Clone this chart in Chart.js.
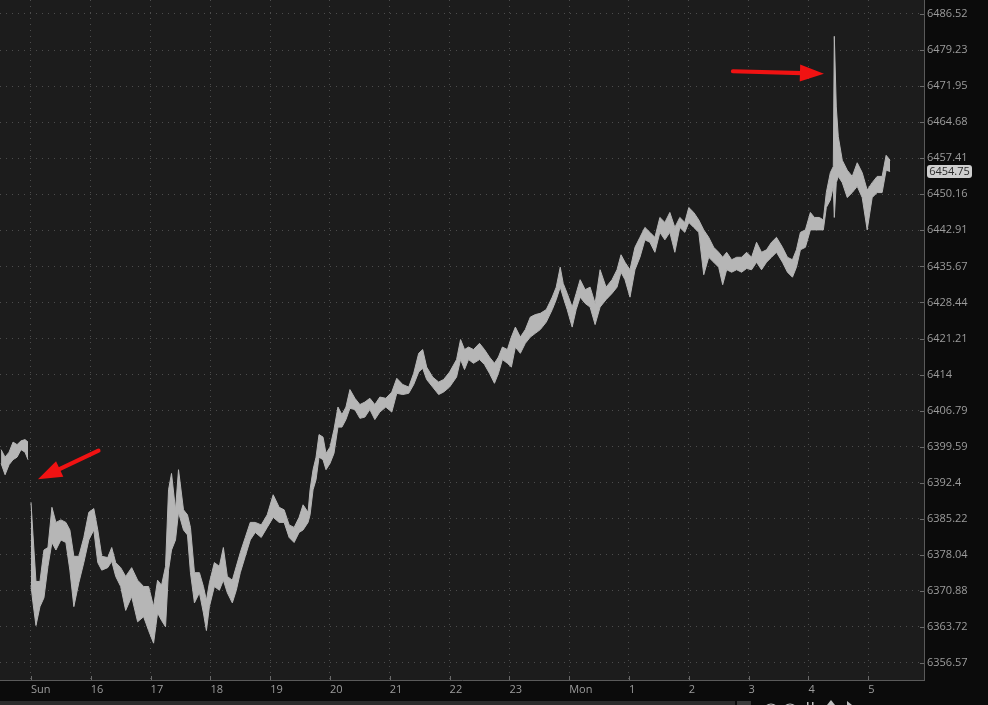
<!DOCTYPE html>
<html><head><meta charset="utf-8">
<script src="https://cdn.jsdelivr.net/npm/chart.js@4.4.1/dist/chart.umd.min.js"></script>
<style>
html,body{margin:0;padding:0;background:#0b0b0b;overflow:hidden}
#wrap{position:relative;width:988px;height:705px}
canvas{display:block}
</style></head><body>
<div id="wrap"><canvas id="c" width="988" height="705"></canvas></div>
<script>
// ---- data: minutes relative to Sunday session open ("Sun" tick), 1-min bar highs/lows ----
const friMinute = [-30,-26,-22,-18,-14,-10,-6,-3];
const friHigh   = [6399.0,6397.5,6398.5,6400.5,6400.0,6400.75,6401.0,6400.5];
const friLow    = [6396.25,6394.0,6396.0,6397.0,6397.5,6399.0,6398.5,6397.0];

const sunMinute = [0,2,5,9,13,17,21,25,30,35,39,43,48,53,58,63,67,71,77,81,85,90,95,101,107,113,118,123,127,131,135,138,141,145,148,153,157,160,164,169,173,176,179,184,189,193,197,202,206,210,215,220,225,231,237,243,249,254,259,264,269,273,278,280,283,286,289,293,296,300,304,308,312,316,320,325,330,335,340,345,350,356,362,367,373,379,384,389,393,397,403,409,414,420,427,431,435,439,444,450,455,460,465,469,473,478,482,486,491,496,501,506,511,517,523,527,531,534,538,543,547,551,556,561,566,571,577,583,588,592,596,601,606,611,616,621,626,631,636,641,646,651,656,660,665,670,675,680,685,690,694,698,703,708,713,718,723,728,733,738,743,748,754,759,764,768,772,777,782,786,791,795,798,802,805,806,808,810,814,819,824,829,834,839,844,849,854,858,862];
const sunHigh = [6388.5,6382.0,6372.75,6372.75,6379.0,6379.5,6387.5,6384.5,6385.0,6384.5,6383.0,6377.75,6377.75,6381.5,6386.5,6387.25,6383.0,6377.75,6377.5,6379.5,6376.5,6375.5,6373.75,6375.5,6373.0,6371.75,6371.75,6367.75,6373.0,6372.0,6375.75,6391.0,6394.25,6387.0,6395.0,6387.0,6386.0,6383.5,6374.5,6374.5,6371.75,6369.0,6372.5,6376.5,6375.75,6379.5,6373.75,6373.0,6375.75,6378.5,6381.5,6384.5,6384.5,6384.0,6386.0,6390.0,6387.5,6387.0,6384.0,6383.5,6385.5,6388.0,6386.5,6391.0,6395.0,6397.5,6402.0,6401.5,6398.25,6399.5,6403.0,6407.5,6406.0,6407.5,6411.0,6409.25,6408.0,6408.5,6409.25,6408.0,6409.5,6409.25,6410.5,6413.25,6412.0,6411.5,6414.25,6418.25,6419.0,6415.5,6413.5,6412.5,6413.0,6414.5,6417.0,6421.0,6419.0,6419.5,6419.0,6420.25,6419.0,6417.5,6416.25,6417.5,6419.5,6419.0,6421.5,6423.5,6421.5,6423.0,6425.5,6426.0,6426.25,6427.0,6429.5,6431.5,6435.5,6432.25,6430.25,6427.5,6430.25,6433.0,6431.0,6431.5,6428.25,6435.0,6431.5,6433.0,6435.0,6438.0,6436.5,6435.0,6439.5,6441.5,6443.5,6442.5,6441.5,6445.5,6444.5,6446.5,6443.5,6445.5,6444.5,6447.5,6446.5,6445.0,6443.0,6441.5,6439.5,6438.5,6437.5,6438.5,6437.0,6437.5,6437.5,6438.5,6437.5,6440.5,6438.5,6439.0,6440.5,6441.5,6439.5,6437.5,6437.0,6439.0,6442.5,6443.0,6446.5,6445.5,6445.5,6445.0,6450.5,6454.5,6455.75,6482.0,6467.75,6461.75,6457.0,6455.0,6453.75,6456.5,6454.5,6451.0,6452.5,6453.75,6453.75,6458.0,6457.0];
const sunLow = [6372.0,6368.5,6364.0,6367.75,6369.5,6375.75,6380.5,6379.0,6381.0,6380.5,6375.0,6367.75,6372.5,6376.5,6381.0,6383.0,6376.5,6375.0,6375.5,6376.75,6373.75,6371.75,6367.0,6369.75,6364.75,6365.75,6363.0,6360.5,6366.5,6365.0,6363.75,6375.0,6379.0,6381.0,6386.5,6383.0,6382.0,6374.5,6368.5,6370.5,6366.5,6363.0,6367.75,6371.75,6371.0,6373.0,6370.5,6368.5,6371.0,6374.5,6377.75,6381.0,6382.5,6381.5,6383.5,6385.5,6384.5,6384.5,6381.5,6380.5,6382.5,6383.0,6384.5,6386.0,6391.0,6393.0,6397.5,6397.0,6395.0,6396.25,6398.25,6403.5,6403.5,6405.0,6407.25,6407.0,6405.25,6405.5,6407.0,6405.0,6406.5,6407.5,6406.5,6410.25,6410.0,6410.25,6412.0,6414.5,6415.25,6413.0,6411.5,6410.0,6410.5,6411.5,6413.5,6417.0,6415.0,6417.0,6416.25,6417.0,6416.0,6414.25,6412.25,6414.25,6417.0,6416.25,6415.5,6419.5,6418.25,6420.25,6421.5,6422.25,6423.0,6424.5,6427.0,6429.0,6431.5,6429.5,6427.0,6423.5,6427.0,6429.5,6428.25,6427.5,6424.0,6427.5,6429.0,6430.25,6431.5,6434.5,6433.0,6429.5,6435.0,6437.5,6441.0,6440.5,6438.5,6442.5,6441.0,6442.5,6438.5,6443.5,6442.5,6444.5,6443.5,6442.5,6434.0,6437.5,6436.5,6435.5,6432.0,6435.0,6434.5,6435.0,6434.5,6435.25,6435.0,6436.5,6435.0,6436.5,6437.5,6438.5,6436.5,6434.5,6433.5,6435.5,6439.0,6439.5,6443.0,6443.0,6443.0,6443.0,6447.5,6449.0,6451.75,6445.5,6452.5,6453.75,6452.5,6449.5,6450.5,6451.75,6449.5,6443.0,6449.5,6450.5,6450.5,6455.0,6454.75];

const xTickMinutes = [0,60,120,180,240,300,360,420,480,540,600,660,720,780,840];
const xTickLabels  = ['Sun','16','17','18','19','20','21','22','23','Mon','1','2','3','4','5'];
const yTickValues  = [6486.52,6479.23,6471.95,6464.68,6457.41,6450.16,6442.91,6435.67,6428.44,6421.21,6414,6406.79,6399.59,6392.4,6385.22,6378.04,6370.88,6363.72,6356.57];
const yTickLabels  = ['6486.52','6479.23','6471.95','6464.68','6457.41','6450.16','6442.91','6435.67','6428.44','6421.21','6414','6406.79','6399.59','6392.4','6385.22','6378.04','6370.88','6363.72','6356.57'];
const lastPrice = 6454.75;
const lastPriceLabel = '6454.75';
// red annotation arrows: [minute, price]
const arrowTail1 = [67.7, 6398.8], arrowTip1 = [7.0, 6393.1];
const arrowTail2 = [704.3, 6474.95], arrowTip2 = [795.6, 6474.45];

function pts(m, v){ return m.map((t, i) => ({x: t, y: v[i]})); }
const highSeries = [...pts(friMinute, friHigh), {x: -1.5, y: null}, ...pts(sunMinute, sunHigh)];
const lowSeries  = [...pts(friMinute, friLow),  {x: -1.5, y: null}, ...pts(sunMinute, sunLow)];

const FONT = "'Open Sans', 'Noto Sans', sans-serif";
const BAR = '#b6b6b6';

function drawArrow(ctx, x1, y1, x2, y2){
  const ang = Math.atan2(y2 - y1, x2 - x1);
  const hl = 24, hw = 8.5;
  const c = Math.cos(ang), s = Math.sin(ang);
  const bx = x2 - hl * c, by = y2 - hl * s;
  ctx.strokeStyle = '#f01212'; ctx.fillStyle = '#f01212';
  ctx.lineWidth = 4.2; ctx.lineCap = 'round';
  ctx.beginPath(); ctx.moveTo(x1, y1); ctx.lineTo(bx + 2 * c, by + 2 * s); ctx.stroke();
  ctx.beginPath();
  ctx.moveTo(x2, y2);
  ctx.lineTo(bx - hw * s, by + hw * c);
  ctx.lineTo(bx + hw * s, by - hw * c);
  ctx.closePath(); ctx.fill();
}

const decor = {
  id: 'decor',
  beforeDraw(chart){
    const {ctx, chartArea: a, width, height} = chart;
    ctx.save();
    ctx.fillStyle = '#0b0b0b'; ctx.fillRect(0, 0, width, height);
    ctx.fillStyle = '#1c1c1c'; ctx.fillRect(a.left, a.top, a.right - a.left, a.bottom - a.top);
    // bottom toolbar strip (cut off by the window edge)
    ctx.fillStyle = '#2c2c2c'; ctx.fillRect(0, 701, 735, 4);
    ctx.fillStyle = '#3a3a3a'; ctx.fillRect(737, 701, 14, 4);
    ctx.strokeStyle = '#bdbdbd'; ctx.lineWidth = 1.2;
    [[771, 711, 7], [790, 711, 7]].forEach(([cx, cy, r]) => { ctx.beginPath(); ctx.arc(cx, cy, r, 0, Math.PI * 2); ctx.stroke(); });
    ctx.fillStyle = '#bdbdbd';
    ctx.fillRect(807, 702, 1.5, 3); ctx.fillRect(812, 702, 1.5, 3);
    ctx.beginPath(); ctx.moveTo(831, 700); ctx.lineTo(835, 705); ctx.lineTo(827, 705); ctx.closePath(); ctx.fill();
    ctx.beginPath(); ctx.moveTo(847, 701); ctx.lineTo(852, 705); ctx.lineTo(847, 705); ctx.closePath(); ctx.fill();
    ctx.restore();
  },
  afterDraw(chart){
    const {ctx, chartArea: a, scales: {x, y}} = chart;
    ctx.save();
    ctx.strokeStyle = '#6a6a6a'; ctx.lineWidth = 1;
    ctx.beginPath();
    yTickValues.forEach(v => { const py = Math.round(y.getPixelForValue(v)) + 0.5; ctx.moveTo(a.right - 4, py); ctx.lineTo(a.right, py); });
    xTickMinutes.forEach(v => { const px = Math.round(x.getPixelForValue(v)) + 0.5; ctx.moveTo(px, a.bottom - 4); ctx.lineTo(px, a.bottom); });
    ctx.stroke();
    drawArrow(ctx, x.getPixelForValue(arrowTail1[0]), y.getPixelForValue(arrowTail1[1]), x.getPixelForValue(arrowTip1[0]), y.getPixelForValue(arrowTip1[1]));
    drawArrow(ctx, x.getPixelForValue(arrowTail2[0]), y.getPixelForValue(arrowTail2[1]), x.getPixelForValue(arrowTip2[0]), y.getPixelForValue(arrowTip2[1]));
    const py = y.getPixelForValue(lastPrice);
    const bx = a.right + 3, bw = 45, bh = 13, by = Math.round(py - bh / 2);
    ctx.fillStyle = '#cfcfcf';
    ctx.beginPath(); ctx.roundRect(bx, by, bw, bh, 3); ctx.fill();
    ctx.fillStyle = '#2b2b2b';
    ctx.font = '11px ' + FONT;
    ctx.textAlign = 'center'; ctx.textBaseline = 'middle';
    ctx.fillText(lastPriceLabel, bx + bw / 2, by + bh / 2 + 0.5);
    ctx.restore();
  }
};

function noPad(s){ s.paddingTop = 0; s.paddingBottom = 0; s.paddingLeft = 0; s.paddingRight = 0; }

new Chart(document.getElementById('c'), {
  type: 'line',
  data: { datasets: [
    { data: highSeries, parsing: false, borderColor: BAR, backgroundColor: BAR, borderWidth: 1,
      pointRadius: 0, tension: 0, spanGaps: false, fill: '+1' },
    { data: lowSeries, parsing: false, borderColor: BAR, borderWidth: 1,
      pointRadius: 0, tension: 0, spanGaps: false, fill: false }
  ]},
  options: {
    responsive: false,
    animation: false,
    devicePixelRatio: 1,
    layout: { padding: 0 },
    plugins: { legend: { display: false }, tooltip: { enabled: false } },
    scales: {
      x: {
        type: 'linear', position: 'bottom',
        min: -31.1, max: 896.0,
        afterBuildTicks: s => { s.ticks = xTickMinutes.map(v => ({value: v})); },
        afterFit: s => { s.height = 25; noPad(s); },
        ticks: { autoSkip: false, maxRotation: 0, align: 'start', padding: 3, color: '#9c9c9c',
                 font: { family: FONT, size: 11 },
                 callback: (v, i) => xTickLabels[i] },
        grid: { color: '#4c4c4c', lineWidth: 1, drawTicks: false },
        border: { display: true, color: '#5a5a5a', width: 1, dash: [1, 5] }
      },
      y: {
        type: 'logarithmic', position: 'right',
        min: 6353.20, max: 6489.35,
        afterBuildTicks: s => { s.ticks = yTickValues.map(v => ({value: v})); },
        afterFit: s => { s.width = 64; noPad(s); },
        ticks: { autoSkip: false, padding: 3, color: '#9c9c9c',
                 font: { family: FONT, size: 11 },
                 callback: (v, i) => yTickLabels[i] },
        grid: { color: '#4c4c4c', lineWidth: 1, drawTicks: false },
        border: { display: true, color: '#5a5a5a', width: 1, dash: [1, 5] }
      }
    }
  },
  plugins: [decor]
});
</script>
</body></html>
